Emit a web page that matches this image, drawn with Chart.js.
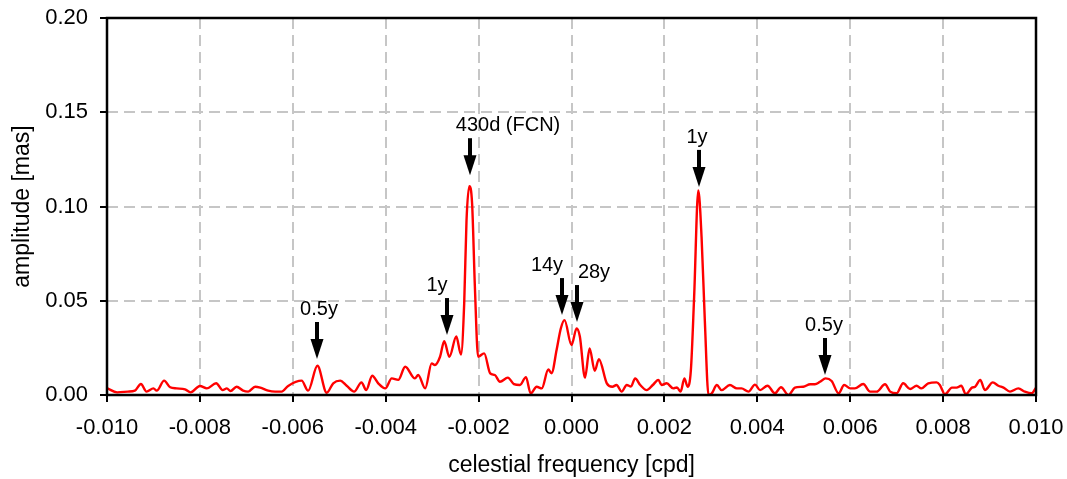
<!DOCTYPE html>
<html>
<head>
<meta charset="utf-8">
<style>
  body { margin: 0; background: #fff; }
  #wrap { width: 1067px; height: 479px; }
</style>
</head>
<body>
<div id="wrap"><canvas id="spectrum" width="1067" height="479"></canvas></div>
<script src="https://cdn.jsdelivr.net/npm/chart.js"></script>
<script>
// celestial frequency [cpd]
const freq = [
  -0.01000, -0.00978, -0.00955, -0.00940, -0.00927, -0.00915, -0.00900, -0.00893, -0.00877, -0.00864,
  -0.00850, -0.00832, -0.00820, -0.00800, -0.00785, -0.00765, -0.00751, -0.00742, -0.00734, -0.00721,
  -0.00707, -0.00696, -0.00681, -0.00670, -0.00653, -0.00638, -0.00624, -0.00610, -0.00581, -0.00567,
  -0.00547, -0.00527, -0.00513, -0.00498, -0.00484, -0.00468, -0.00452, -0.00442, -0.00429, -0.00416,
  -0.00401, -0.00387, -0.00373, -0.00358, -0.00337, -0.00330, -0.00315, -0.00301, -0.00294, -0.00283,
  -0.00274, -0.00263, -0.00248, -0.00238, -0.00231, -0.00226, -0.00220, -0.00214, -0.00208, -0.00201,
  -0.00188, -0.00175, -0.00165, -0.00154, -0.00137, -0.00124, -0.00111, -0.00098, -0.00088, -0.00075,
  -0.00064, -0.00050, -0.00043, -0.00032, -0.00023, -0.00015, 0.00000, 0.00011, 0.00018, 0.00029,
  0.00039, 0.00050, 0.00059, 0.00076, 0.00088, 0.00097, 0.00108, 0.00119, 0.00128, 0.00137,
  0.00148, 0.00162, 0.00175, 0.00187, 0.00194, 0.00205, 0.00219, 0.00227, 0.00235, 0.00243,
  0.00250, 0.00257, 0.00264, 0.00273, 0.00280, 0.00287, 0.00295, 0.00302, 0.00313, 0.00323,
  0.00341, 0.00356, 0.00366, 0.00381, 0.00395, 0.00406, 0.00422, 0.00438, 0.00451, 0.00467,
  0.00481, 0.00499, 0.00514, 0.00524, 0.00535, 0.00547, 0.00560, 0.00575, 0.00587, 0.00600,
  0.00610, 0.00628, 0.00643, 0.00657, 0.00675, 0.00686, 0.00700, 0.00714, 0.00729, 0.00743,
  0.00753, 0.00768, 0.00786, 0.00793, 0.00804, 0.00819, 0.00829, 0.00839, 0.00849, 0.00862,
  0.00869, 0.00880, 0.00890, 0.00907, 0.00919, 0.00930, 0.00944, 0.00962, 0.00976, 0.00991,
  0.01000
];
// amplitude [mas]
const amp = [
  0.0036, 0.0014, 0.0018, 0.0023, 0.0058, 0.0018, 0.0035, 0.0023, 0.0076, 0.0041,
  0.0035, 0.0030, 0.0014, 0.0048, 0.0035, 0.0062, 0.0026, 0.0035, 0.0021, 0.0044,
  0.0023, 0.0018, 0.0044, 0.0039, 0.0023, 0.0018, 0.0018, 0.0048, 0.0076, 0.0023,
  0.0155, 0.0012, 0.0062, 0.0076, 0.0049, 0.0018, 0.0067, 0.0026, 0.0102, 0.0062,
  0.0035, 0.0088, 0.0080, 0.0150, 0.0088, 0.0106, 0.0035, 0.0168, 0.0159, 0.0203,
  0.0285, 0.0203, 0.0310, 0.0215, 0.0486, 0.0927, 0.1108, 0.1016, 0.0574, 0.0203,
  0.0221, 0.0115, 0.0106, 0.0070, 0.0092, 0.0058, 0.0053, 0.0095, 0.0009, 0.0044,
  0.0035, 0.0135, 0.0115, 0.0240, 0.0353, 0.0397, 0.0265, 0.0353, 0.0310, 0.0092,
  0.0247, 0.0128, 0.0190, 0.0062, 0.0044, 0.0053, 0.0018, 0.0053, 0.0045, 0.0088,
  0.0053, 0.0026, 0.0053, 0.0080, 0.0053, 0.0062, 0.0035, 0.0040, 0.0018, 0.0088,
  0.0044, 0.0132, 0.0520, 0.1085, 0.0839, 0.0397, 0.0000, 0.0009, 0.0053, 0.0026,
  0.0053, 0.0035, 0.0035, 0.0018, 0.0055, 0.0026, 0.0049, 0.0009, 0.0041, 0.0000,
  0.0039, 0.0044, 0.0057, 0.0057, 0.0070, 0.0088, 0.0074, 0.0009, 0.0053, 0.0035,
  0.0035, 0.0058, 0.0018, 0.0018, 0.0057, 0.0018, 0.0009, 0.0062, 0.0032, 0.0049,
  0.0035, 0.0062, 0.0067, 0.0053, 0.0004, 0.0039, 0.0039, 0.0049, 0.0004, 0.0039,
  0.0044, 0.0080, 0.0026, 0.0067, 0.0049, 0.0039, 0.0018, 0.0035, 0.0018, 0.0009,
  0.0039
];

// arrow annotations: label, frequency, amplitude at the arrow tip
const arrowText = ["0.5y", "1y", "430d (FCN)", "14y", "28y", "1y", "0.5y"];
const arrowFreq = [-0.00548, -0.00269, -0.00219, -0.00020, 0.00011, 0.00275, 0.00546];
const arrowTip  = [0.0191, 0.0318, 0.1166, 0.0424, 0.0387, 0.1104, 0.0106];
// horizontal shift of each label against its arrow (px)
const arrowShift = [2, -10, 38, -15, 17, -2, -1];

const FONT = '"Liberation Sans", Arial, sans-serif';
Chart.defaults.font.family = FONT;
Chart.defaults.font.size = 22;
Chart.defaults.color = '#000';

const overlay = {
  id: 'overlay',
  afterDatasetsDraw(chart) {
    const {ctx, chartArea: a, scales: {x, y}} = chart;
    ctx.save();
    // frame round the plot
    ctx.strokeStyle = '#000';
    ctx.lineWidth = 2.5;
    ctx.strokeRect(a.left, a.top, a.right - a.left, a.bottom - a.top);

    // arrows + labels
    ctx.fillStyle = '#000';
    ctx.font = '20px ' + FONT;
    ctx.textAlign = 'center';
    ctx.textBaseline = 'alphabetic';
    arrowText.forEach((t, i) => {
      const px = Math.round(x.getPixelForValue(arrowFreq[i]));
      const tip = y.getPixelForValue(arrowTip[i]);
      const top = tip - 37;
      ctx.lineWidth = 4;
      ctx.beginPath();
      ctx.moveTo(px, top);
      ctx.lineTo(px, tip - 14);
      ctx.stroke();
      ctx.beginPath();
      ctx.moveTo(px - 6.5, tip - 20);
      ctx.lineTo(px + 6.5, tip - 20);
      ctx.lineTo(px, tip);
      ctx.closePath();
      ctx.fill();
      ctx.fillText(t, px + arrowShift[i], top - 7);
    });
    ctx.restore();
  }
};

new Chart(document.getElementById('spectrum'), {
  type: 'line',
  data: {
    datasets: [{
      data: freq.map((f, i) => ({x: f, y: amp[i]})),
      borderColor: '#ff0000',
      borderWidth: 2.4,
      pointRadius: 0,
      cubicInterpolationMode: 'monotone',
      fill: false
    }]
  },
  options: {
    responsive: false,
    animation: false,
    devicePixelRatio: 1,
    layout: { padding: { top: 18, right: 31, left: 0, bottom: 0 } },
    plugins: { legend: { display: false }, tooltip: { enabled: false } },
    scales: {
      x: {
        type: 'linear',
        min: -0.01,
        max: 0.01,
        afterFit(scale) {
          scale.height = 84;
          scale.paddingLeft = 0;
          scale.paddingRight = 0;
        },
        ticks: {
          stepSize: 0.002,
          maxRotation: 0,
          autoSkip: false,
          padding: 13,
          callback: v => (Math.abs(v) < 1e-9 ? 0 : v).toFixed(3)
        },
        grid: { color: '#c6c6c6', lineWidth: 2, tickColor: '#000', tickLength: 7, tickWidth: 2 },
        border: { display: false, dash: [11, 6] },
        title: { display: true, text: 'celestial frequency [cpd]', font: { size: 23 }, padding: { top: 0, bottom: 0 } }
      },
      y: {
        min: 0,
        max: 0.2,
        afterFit(scale) {
          scale.width = 107;
          scale.paddingTop = 0;
          scale.paddingBottom = 0;
        },
        ticks: {
          stepSize: 0.05,
          padding: 12,
          callback: v => v.toFixed(2)
        },
        grid: { color: '#c6c6c6', lineWidth: 2, tickColor: '#000', tickLength: 7, tickWidth: 2 },
        border: { display: false, dash: [11, 6] },
        title: { display: true, text: 'amplitude [mas]', font: { size: 23 }, padding: { top: 9, bottom: 0 } }
      }
    }
  },
  plugins: [overlay]
});
</script>
</body>
</html>
